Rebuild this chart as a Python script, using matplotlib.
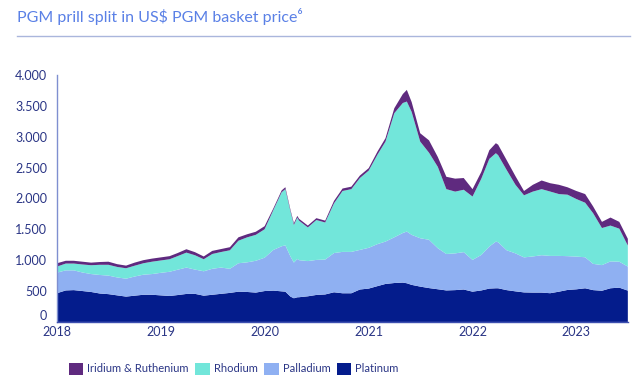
import numpy as np
import pandas as pd
import matplotlib
matplotlib.use("Agg")
import matplotlib.pyplot as plt
from matplotlib.patches import Patch
from matplotlib.ticker import FuncFormatter

plt.rcParams['font.family'] = ['Lato', 'DejaVu Sans']

# monthly points, plus a few extra ones around the sharp peaks
dates = list(pd.date_range("2018-01-01", "2020-03-01", freq="MS").strftime("%Y-%m-%d")) + [
    "2020-03-14", "2020-04-01", "2020-04-13", "2020-04-25"] + \
    list(pd.date_range("2020-05-01", "2021-05-01", freq="MS").strftime("%Y-%m-%d")) + [
    "2021-05-15"] + \
    list(pd.date_range("2021-06-01", "2022-03-01", freq="MS").strftime("%Y-%m-%d")) + [
    "2022-03-24"] + \
    list(pd.date_range("2022-04-01", "2023-07-01", freq="MS").strftime("%Y-%m-%d"))
dates = pd.to_datetime(dates)

platinum = [465, 510, 515, 500, 485, 460, 450, 430, 410, 425, 440, 440,
            430, 420, 435, 453, 455, 425, 440, 455, 470, 490, 485, 475,
            500, 507, 495,
            490, 410, 383, 399,
            400, 415, 437, 445, 480, 464, 464, 525,
            540, 580, 615, 630, 637,
            626,
            600, 572, 548, 529, 510, 515, 525,
            490, 510, 540,
            545,
            545, 515, 495, 478, 475, 475, 465, 490, 518,
            528, 545, 515, 505, 545, 555, 507]
palladium = [333, 325, 320, 300, 290, 300, 300, 290, 290, 310, 325, 335,
             365, 392, 410, 427, 393, 395, 420, 425, 390, 460, 480, 515,
             540, 659, 730,
             750, 648, 578, 621,
             600, 570, 567, 565, 635, 670, 670, 641,
             660, 680, 686, 740, 803,
             837,
             810, 783, 782, 664, 590, 595, 605,
             514, 575, 680,
             755,
             745, 645, 615, 567, 585, 605, 604, 579, 547,
             530, 502, 425, 415, 435, 420, 389]
rhodium = [98, 110, 110, 130, 143, 165, 175, 170, 169, 175, 185, 200,
           200, 203, 220, 242, 232, 195, 240, 252, 300, 365, 405, 420,
           460, 648, 875,
           910, 732, 609, 670,
           640, 545, 646, 600, 805, 986, 1016, 1164,
           1250, 1450, 1619, 2010, 2105,
           2105,
           1990, 1565, 1410, 1317, 1050, 1000, 1010,
           1026, 1235, 1420,
           1432,
           1410, 1300, 1110, 1005, 1050, 1070, 1042, 1001, 995,
           932, 883, 820, 600, 580, 535, 340]
iridium_ruthenium = [54, 45, 45, 45, 42, 45, 50, 45, 43, 50, 50, 50,
                     50, 50, 50, 55, 50, 45, 50, 48, 50, 55, 50, 50,
                     50, 27, 30,
                     31, 24, 28, 27,
                     30, 30, 30, 30, 40, 40, 40, 40,
                     40, 50, 55, 80, 145,
                     189,
                     160, 135, 200, 160, 200, 210, 190,
                     120, 110, 140,
                     162,
                     170, 160, 140, 70, 110, 140, 135, 150, 120,
                     130, 140, 110, 100, 130, 110, 110]

series_names = ["Platinum", "Palladium", "Rhodium", "Iridium & Ruthenium"]
colors = ["#041c8c", "#8fb0f2", "#72e6da", "#5f2a7f"]
year_ticks = ["2018", "2019", "2020", "2021", "2022", "2023"]

text_col = "#2a3585"

fig = plt.figure(figsize=(6.4, 3.86), dpi=100)
ax = fig.add_axes([0.089, 0.166, 0.892, 0.640])

ax.stackplot(dates, platinum, palladium, rhodium, iridium_ruthenium,
             colors=colors, linewidth=0)

ax.set_xlim(dates[0], dates[-1])
ax.set_ylim(0, 4000)
ax.set_yticks(np.arange(0, 4001, 500))
ax.yaxis.set_major_formatter(FuncFormatter(lambda v, p: f"{int(v):,}".replace(",", ".")))
ax.set_xticks(pd.to_datetime([y + "-01-01" for y in year_ticks]))
ax.set_xticklabels(year_ticks)

ax.tick_params(axis="both", length=0, labelsize=9, colors=text_col)
ax.tick_params(axis="y", pad=7)
ax.tick_params(axis="x", pad=3)
for s in ["top", "right"]:
    ax.spines[s].set_visible(False)
ax.spines["left"].set_color("#7f8fd0")
ax.spines["left"].set_linewidth(1.0)
ax.spines["bottom"].set_color("#3d4fb0")
ax.spines["bottom"].set_linewidth(1.0)
# nudge the "0" label up a little, as in the original
ax.get_yticklabels()[0].set_verticalalignment("bottom")

fig.text(0.027, 0.957, "PGM prill split in US\\$ PGM basket price\u2076", fontsize=11.5,
         color="#5a80e6", va="center", ha="left")
fig.add_artist(plt.Line2D([0.027, 0.985], [0.907, 0.907], color="#aab6dc", linewidth=1))

handles = [Patch(facecolor=c, edgecolor="none") for c in colors[::-1]]
fig.legend(handles, series_names[::-1], loc="center left", bbox_to_anchor=(0.092, 0.045),
           ncol=4, frameon=False, fontsize=8, labelcolor=text_col,
           handlelength=1.3, handleheight=1.3, handletextpad=0.35, columnspacing=0.6)

fig.savefig("out.png", dpi=100)
